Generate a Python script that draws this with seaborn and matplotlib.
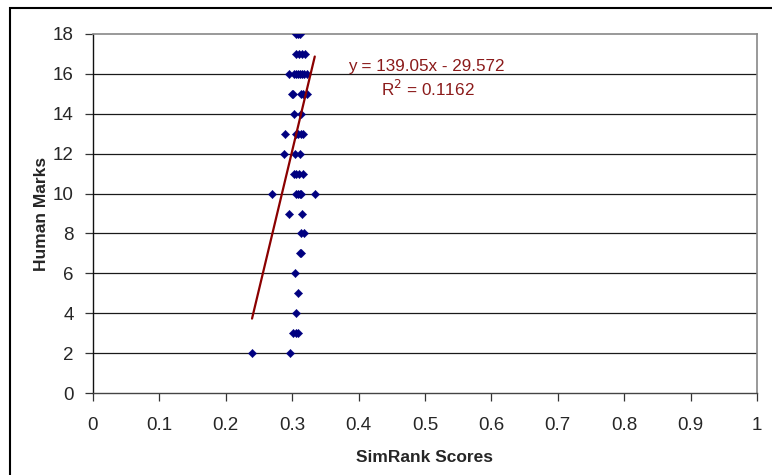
import matplotlib
matplotlib.use("Agg")
import matplotlib.pyplot as plt
import matplotlib.patches as mpatches
import numpy as np
import pandas as pd
import seaborn as sns

# SimRank scores per human mark
marks_18 = [0.306, 0.309, 0.312]
marks_17 = [0.305, 0.310, 0.315, 0.320]
marks_16 = [0.295, 0.303, 0.306, 0.309, 0.312, 0.315, 0.318, 0.322]
marks_15 = [0.299, 0.301, 0.313, 0.316, 0.322]
marks_14 = [0.302, 0.313]
marks_13 = [0.289, 0.305, 0.309, 0.313, 0.316]
marks_12 = [0.287, 0.304, 0.311]
marks_11 = [0.302, 0.306, 0.310, 0.317]
marks_10 = [0.269, 0.305, 0.308, 0.311, 0.314, 0.334]
marks_9 = [0.295, 0.315]
marks_8 = [0.313, 0.318]
marks_7 = [0.312, 0.314]
marks_6 = [0.304]
marks_5 = [0.308]
marks_4 = [0.305]
marks_3 = [0.301, 0.305, 0.309]
marks_2 = [0.2395, 0.297]

groups = {
    18: marks_18, 17: marks_17, 16: marks_16, 15: marks_15, 14: marks_14,
    13: marks_13, 12: marks_12, 11: marks_11, 10: marks_10, 9: marks_9,
    8: marks_8, 7: marks_7, 6: marks_6, 5: marks_5, 4: marks_4,
    3: marks_3, 2: marks_2,
}

# Linear trendline coefficients
slope = 139.05
intercept = -29.572
r_squared = 0.1162

x_ticks = [0, 0.1, 0.2, 0.3, 0.4, 0.5, 0.6, 0.7, 0.8, 0.9, 1]
x_tick_labels = ["0", "0.1", "0.2", "0.3", "0.4", "0.5", "0.6", "0.7", "0.8", "0.9", "1"]
y_ticks = [0, 2, 4, 6, 8, 10, 12, 14, 16, 18]

rows = [(s, m) for m, vals in groups.items() for s in vals]
df = pd.DataFrame(rows, columns=["SimRank", "Marks"])

sns.set_theme(style="white")
plt.rcParams["font.family"] = ["Liberation Sans", "DejaVu Sans"]

fig = plt.figure(figsize=(7.72, 4.75), dpi=100)
ax = fig.add_axes([93 / 772, 1 - 393 / 475, (757 - 93) / 772, (393 - 34) / 475])

# horizontal gridlines
for yv in y_ticks[1:-1]:
    ax.axhline(yv, color="#1a1a1a", lw=0.9, zorder=0)

sns.scatterplot(data=df, x="SimRank", y="Marks", marker="D", s=18,
                color="#000080", edgecolor="#000080", linewidth=0.3,
                ax=ax, zorder=3)

# trendline across the observed score range
xs = np.array([df["SimRank"].min(), df["SimRank"].max()])
sns.lineplot(x=xs, y=slope * xs + intercept, color="#8B0000", lw=1.6,
             ax=ax, zorder=4)

ax.text(0.502, 16.39, f"y = {slope:.2f}x - {abs(intercept):.3f}", color="#8B1A1A",
        fontsize=12.3, va="center", ha="center")
ax.text(0.505, 15.25, f"R$^2$ = {r_squared:.4f}", color="#8B1A1A",
        fontsize=12.3, va="center", ha="center")

ax.set_xlim(0, 1)
ax.set_ylim(0, 18)
ax.set_xticks(x_ticks)
ax.set_xticklabels(x_tick_labels)
ax.set_yticks(y_ticks)
ax.tick_params(axis="both", labelsize=13.5, direction="out", length=6,
               width=0.9, color="#333333")
ax.tick_params(axis="x", bottom=True, pad=11)
ax.tick_params(axis="y", left=True, pad=8)

for side in ["top", "right"]:
    ax.spines[side].set_color("#888888")
    ax.spines[side].set_linewidth(1.2)
ax.spines["left"].set_color("#111111")
ax.spines["bottom"].set_color("#444444")
ax.spines["left"].set_linewidth(1)
ax.spines["bottom"].set_linewidth(1)

ax.set_xlabel("SimRank Scores", fontsize=12.5, fontweight="bold", labelpad=12)
ax.set_ylabel("Human Marks", fontsize=12.5, fontweight="bold", labelpad=3)

# outer chart frame
frame = mpatches.Rectangle((10 / 772, -0.2), 1.2, 1.2 - 8 / 475,
                           transform=fig.transFigure, fill=False,
                           edgecolor="black", lw=1.5, clip_on=False)
fig.patches.append(frame)

fig.savefig("out.png", dpi=100, facecolor="white")
